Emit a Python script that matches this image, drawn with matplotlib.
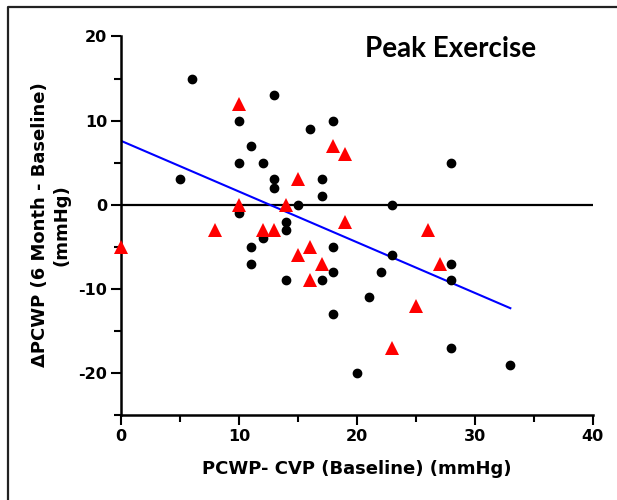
import matplotlib.pyplot as plt
import numpy as np
from matplotlib.lines import Line2D
from matplotlib.ticker import MultipleLocator

# black circles
circle_x = [5, 6, 10, 10, 10, 11, 11, 11, 12, 12, 13, 13, 13, 14, 14, 14, 15, 16,
            17, 17, 17, 18, 18, 18, 18, 20, 21, 22, 23, 23, 28, 28, 28, 28, 33]
circle_y = [3, 15, 10, 5, -1, 7, -5, -7, 5, -4, 13, 3, 2, -2, -3, -9, 0, 9,
            3, 1, -9, 10, -5, -8, -13, -20, -11, -8, 0, -6, 5, -7, -9, -17, -19]

# red triangles
tri_x = [0, 8, 10, 10, 12, 13, 14, 15, 15, 16, 16, 17, 18, 19, 19, 23, 25, 26, 27]
tri_y = [-5, -3, 12, 0, -3, -3, 0, 3, -6, -5, -9, -7, 7, 6, -2, -17, -12, -3, -7]

# regression line end points
fit_x = [0, 33]
fit_y = [7.6, -12.3]

x_ticks = [0, 10, 20, 30, 40]
y_ticks = [-20, -10, 0, 10, 20]


def main():
    plt.rcParams["font.family"] = ["DejaVu Sans"]
    plt.rcParams["font.weight"] = "bold"
    plt.rcParams["axes.unicode_minus"] = False

    fig = plt.figure(figsize=(6.17, 5.0), dpi=100)
    ax = fig.add_axes([0.196, 0.17, 0.765, 0.757])

    ax.plot([0, 40], [0, 0], color="black", lw=1.6, zorder=1)
    ax.plot(fit_x, fit_y, color="#0000ff", lw=1.5, zorder=2)
    ax.plot(circle_x, circle_y, "o", color="black", ms=6, zorder=3, clip_on=False)
    ax.plot(tri_x, tri_y, "^", color="#ff0000", ms=10, mew=0, zorder=4, clip_on=False)

    ax.set_xlim(0, 40)
    ax.set_ylim(-25, 20)
    ax.set_xticks(x_ticks)
    ax.set_yticks(y_ticks)
    ax.xaxis.set_minor_locator(MultipleLocator(5))
    ax.yaxis.set_minor_locator(MultipleLocator(5))
    ax.tick_params(which="major", direction="out", length=7, width=1.5, labelsize=11.5, pad=3)
    ax.tick_params(which="minor", direction="out", length=5, width=1.5)
    for lab in ax.get_xticklabels() + ax.get_yticklabels():
        lab.set_fontweight("bold")

    for side in ["top", "right"]:
        ax.spines[side].set_visible(False)
    for side in ["left", "bottom"]:
        ax.spines[side].set_linewidth(1.8)

    ax.set_xlabel("PCWP- CVP (Baseline) (mmHg)", fontsize=13, fontweight="bold")
    ax.xaxis.set_label_coords(0.5, -0.12)
    ax.set_ylabel("ΔPCWP (6 Month - Baseline)\n(mmHg)", fontsize=13, fontweight="bold",
                  linespacing=1.3)
    ax.yaxis.set_label_coords(-0.106, 0.502)

    fig.text(0.731, 0.902, "Peak Exercise", fontsize=20, fontweight="bold",
             family=["Lato", "DejaVu Sans"], ha="center", va="center")

    # outer frame, only left and top edges show in the crop
    fx = 7.5 / 617
    fy = 1 - 6.5 / 500
    fig.add_artist(Line2D([fx, fx, 1.0], [0.0, fy, fy], transform=fig.transFigure,
                          color="#222222", lw=1.6))

    fig.savefig("out.png", dpi=100)


if __name__ == "__main__":
    main()
